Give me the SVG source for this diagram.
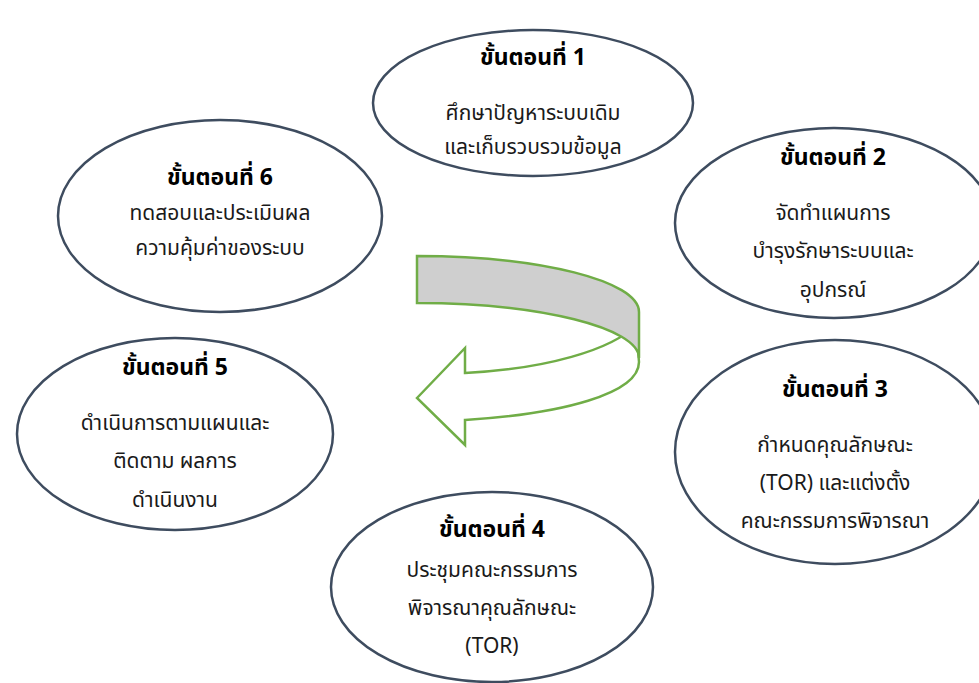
<svg xmlns="http://www.w3.org/2000/svg" width="979" height="683" viewBox="0 0 979 683">
<style>
.node ellipse{fill:#fff;stroke:#3E4C5F;stroke-width:2.5}
text{font-family:"Noto Sans Thai","Noto Sans","DejaVu Sans","Liberation Sans",sans-serif;font-size:21px;fill:#1a1a1a;text-anchor:middle}
.t{font-weight:bold;fill:#000;font-size:23px}
.arrow{stroke:#70AD47;stroke-width:2.5;stroke-linejoin:miter}
</style>
<rect width="979" height="683" fill="#fff"/>
<g id="connectors">
<path class="arrow" fill="#fff" d="M417,398 L465,348 L465,373 C545,369 612,350 636,325 L639,362 C639,394 561,414 465,420 L465,445 Z"/>
<path class="arrow" fill="#CFCFCF" d="M417,256 C540,256 639,281 639,312 L639,358 C639,328 540,303 417,303 Z"/>
</g>
<g id="node1" class="node">
<ellipse cx="533" cy="103" rx="160" ry="73"/>
<text class="t" x="533" y="65">ขั้นตอนที่ 1</text>
<text x="533" y="120">ศึกษาปัญหาระบบเดิม</text>
<text x="533" y="154">และเก็บรวบรวมข้อมูล</text>
</g>
<g id="node2" class="node">
<ellipse cx="834" cy="223" rx="159" ry="95"/>
<text class="t" x="833" y="165">ขั้นตอนที่  2</text>
<text x="833" y="220">จัดทำแผนการ</text>
<text x="833" y="258">บำรุงรักษาระบบและ</text>
<text x="833" y="297">อุปกรณ์</text>
</g>
<g id="node3" class="node">
<ellipse cx="835" cy="452" rx="160" ry="112"/>
<text class="t" x="835" y="397">ขั้นตอนที่ 3</text>
<text x="835" y="452">กำหนดคุณลักษณะ</text>
<text x="835" y="490">(TOR) และแต่งตั้ง</text>
<text x="835" y="528">คณะกรรมการพิจารณา</text>
</g>
<g id="node4" class="node">
<ellipse cx="492" cy="587" rx="161" ry="95"/>
<text class="t" x="492" y="537">ขั้นตอนที่ 4</text>
<text x="492" y="577">ประชุมคณะกรรมการ</text>
<text x="492" y="615">พิจารณาคุณลักษณะ</text>
<text x="492" y="653">(TOR)</text>
</g>
<g id="node5" class="node">
<ellipse cx="175" cy="434" rx="158" ry="96"/>
<text class="t" x="175" y="375">ขั้นตอนที่ 5</text>
<text x="175" y="430">ดำเนินการตามแผนและ</text>
<text x="175" y="468">ติดตาม ผลการ</text>
<text x="175" y="507">ดำเนินงาน</text>
</g>
<g id="node6" class="node">
<ellipse cx="220" cy="216" rx="162" ry="96"/>
<text class="t" x="220" y="185">ขั้นตอนที่ 6</text>
<text x="220" y="220">ทดสอบและประเมินผล</text>
<text x="220" y="255">ความคุ้มค่าของระบบ</text>
</g>
</svg>
